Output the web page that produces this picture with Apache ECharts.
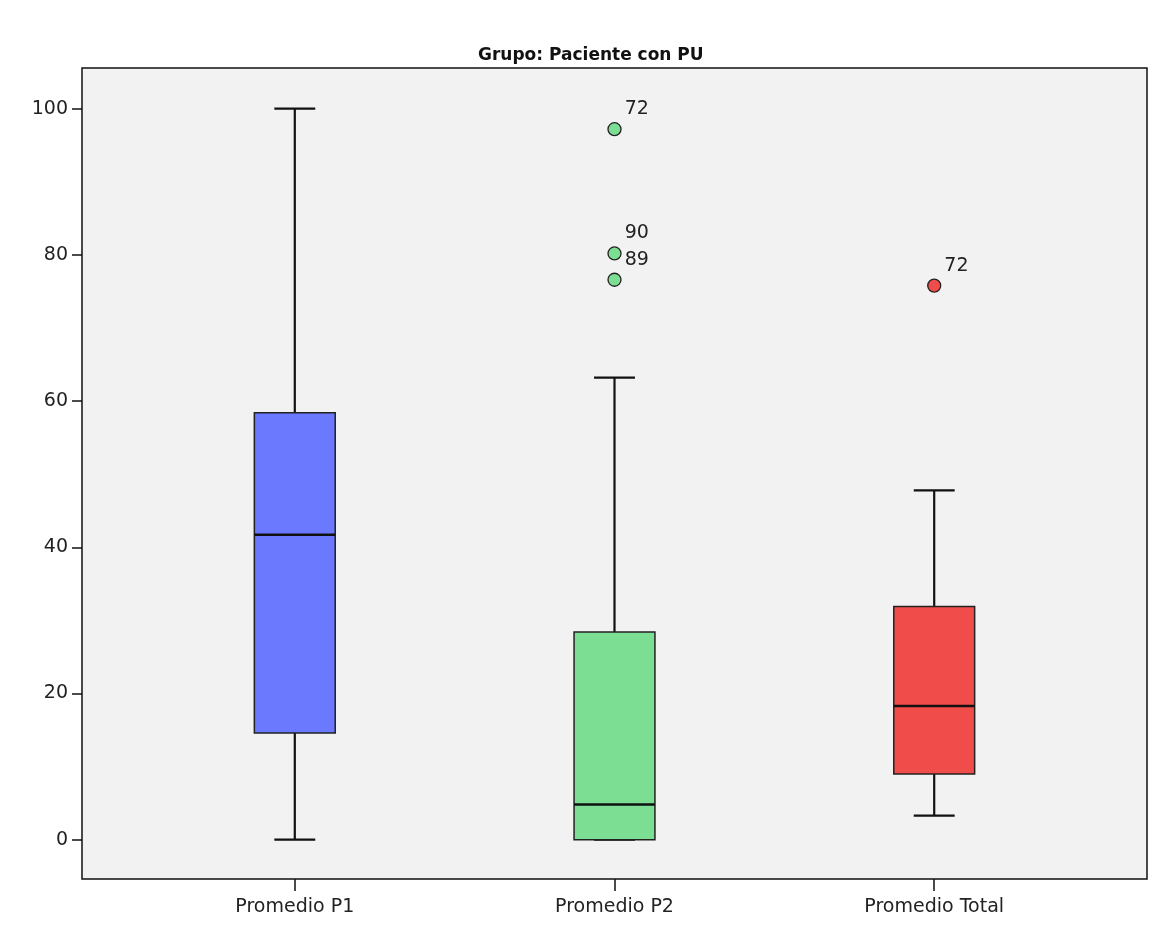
<!DOCTYPE html>
<html>
<head>
<meta charset="utf-8">
<script src="https://cdn.jsdelivr.net/npm/echarts@6/dist/echarts.min.js"></script>
<style>html,body{margin:0;padding:0;background:#fff;}#c{width:1159px;height:932px;}</style>
</head>
<body>
<div id="c"></div>
<script>
const categories = ['Promedio P1', 'Promedio P2', 'Promedio Total'];
const whiskerLow = [0, 0, 3.3];
const q1 = [14.6, 0, 9.0];
const median = [41.7, 4.8, 18.3];
const q3 = [58.4, 28.4, 31.9];
const whiskerHigh = [100, 63.2, 47.8];
const boxColors = ['#6b79ff', '#7cde93', '#f04c4a'];

const outlierCategory = [1, 1, 1, 2];
const outlierValues = [97.2, 80.2, 76.6, 75.8];
const outlierLabels = ['72', '90', '89', '72'];

const yTicks = [0, 20, 40, 60, 80, 100];
const xTicks = [0, 1, 2];

const boxData = categories.map((c, i) => [i, whiskerLow[i], q1[i], median[i], q3[i], whiskerHigh[i]]);
const outlierData = outlierValues.map((v, i) => ({
  value: [outlierCategory[i], v],
  name: outlierLabels[i],
  itemStyle: { color: boxColors[outlierCategory[i]] }
}));

const chart = echarts.init(document.getElementById('c'), null, { renderer: 'canvas' });
const txt = '#222';
const font = 'DejaVu Sans';

chart.setOption({
  animation: false,
  backgroundColor: '#ffffff',
  title: {
    text: 'Grupo: Paciente con PU',
    left: 473,
    top: 42,
    textStyle: { fontFamily: font, fontWeight: 'bold', fontSize: 17, color: '#111' }
  },
  grid: {
    left: 82, right: 12, top: 68, bottom: 53,
    show: true, backgroundColor: '#f2f2f2', borderColor: '#111', borderWidth: 1.5
  },
  xAxis: {
    type: 'value',
    min: -0.6656,
    max: 2.6656,
    axisLine: { show: false, onZero: false },
    axisTick: { show: true, customValues: xTicks, length: 12, lineStyle: { color: '#111', width: 1.5 } },
    axisLabel: {
      customValues: xTicks, margin: 19, fontFamily: font, fontSize: 19, color: txt,
      formatter: v => categories[Math.round(v)]
    },
    splitLine: { show: false }
  },
  yAxis: {
    type: 'value',
    min: -5.38,
    max: 105.57,
    axisLine: { show: false, onZero: false },
    axisTick: { show: true, customValues: yTicks, length: 10, lineStyle: { color: '#111', width: 1.5 } },
    axisLabel: { customValues: yTicks, margin: 14, fontFamily: font, fontSize: 19, color: txt },
    splitLine: { show: false }
  },
  series: [{
    type: 'custom',
    data: boxData,
    encode: { x: 0, y: [1, 2, 3, 4, 5] },
    renderItem: function (params, api) {
      const x = api.value(0);
      const unit = api.size([1, 0])[0];
      const bw = unit * 0.253;
      const cw = unit * 0.128;
      const lo = api.coord([x, api.value(1)]);
      const p1 = api.coord([x, api.value(2)]);
      const pm = api.coord([x, api.value(3)]);
      const p3 = api.coord([x, api.value(4)]);
      const hi = api.coord([x, api.value(5)]);
      const cx = lo[0];
      const ws = { stroke: '#111', lineWidth: 2.2 };
      return {
        type: 'group',
        children: [
          { type: 'line', shape: { x1: cx, y1: p3[1], x2: cx, y2: hi[1] }, style: ws },
          { type: 'line', shape: { x1: cx, y1: p1[1], x2: cx, y2: lo[1] }, style: ws },
          { type: 'line', shape: { x1: cx - cw / 2, y1: hi[1], x2: cx + cw / 2, y2: hi[1] }, style: ws },
          { type: 'line', shape: { x1: cx - cw / 2, y1: lo[1], x2: cx + cw / 2, y2: lo[1] }, style: ws },
          { type: 'rect', shape: { x: cx - bw / 2, y: p3[1], width: bw, height: p1[1] - p3[1] },
            style: { fill: boxColors[params.dataIndex], stroke: '#222', lineWidth: 1.5 } },
          { type: 'line', shape: { x1: cx - bw / 2, y1: pm[1], x2: cx + bw / 2, y2: pm[1] },
            style: { stroke: '#111', lineWidth: 2.5 } }
        ]
      };
    }
  }, {
    type: 'scatter',
    data: outlierData,
    symbol: 'circle',
    symbolSize: 13,
    itemStyle: { borderColor: '#222', borderWidth: 1.3, opacity: 1 },
    label: {
      show: true,
      position: 'right',
      distance: 3,
      offset: [0, -20],
      formatter: p => p.name,
      fontFamily: font,
      fontSize: 19,
      color: txt
    },
    z: 5
  }]
});
</script>
</body>
</html>
